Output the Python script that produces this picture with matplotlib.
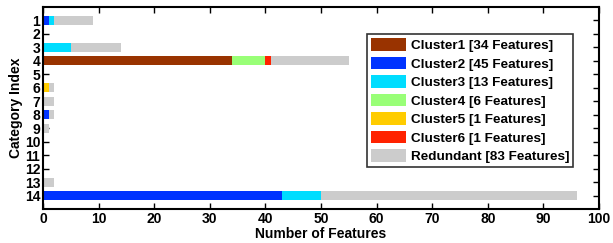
import matplotlib
matplotlib.use("Agg")
import matplotlib.pyplot as plt
from matplotlib.patches import Patch
import numpy as np

plt.rcParams['font.family'] = ['Liberation Sans', 'DejaVu Sans']
plt.rcParams['font.weight'] = 'bold'

categories = list(range(1, 15))
series_names = ["Cluster1 [34 Features]", "Cluster2 [45 Features]", "Cluster3 [13 Features]",
                "Cluster4 [6 Features]", "Cluster5 [1 Features]", "Cluster6 [1 Features]",
                "Redundant [83 Features]"]
colors = ["#993300", "#0033ff", "#00ddff", "#99ff77", "#ffcc00", "#ff2200", "#cccccc"]

cluster1  = [0, 0, 0, 34, 0, 0, 0, 0, 0, 0, 0, 0, 0, 0]
cluster2  = [1, 0, 0, 0, 0, 0, 0, 1, 0, 0, 0, 0, 0, 43]
cluster3  = [1, 0, 5, 0, 0, 0, 0, 0, 0, 0, 0, 0, 0, 7]
cluster4  = [0, 0, 0, 6, 0, 0, 0, 0, 0, 0, 0, 0, 0, 0]
cluster5  = [0, 0, 0, 0, 0, 1, 0, 0, 0, 0, 0, 0, 0, 0]
cluster6  = [0, 0, 0, 1, 0, 0, 0, 0, 0, 0, 0, 0, 0, 0]
redundant = [7, 0, 9, 14, 0, 1, 2, 1, 1, 0, 0, 0, 2, 46]
series = [cluster1, cluster2, cluster3, cluster4, cluster5, cluster6, redundant]
x_ticks = list(range(0, 101, 10))

fig = plt.figure(figsize=(6.13, 2.43), dpi=100)
ax = fig.add_axes([43/613, 1 - 209/243, (599-43)/613, (209-7)/243])
ax.set_axisbelow(True)

left = np.zeros(len(categories))
for vals, col in zip(series, colors):
    v = np.array(vals, dtype=float)
    ax.barh(categories, v, left=left, height=0.67, color=col, edgecolor='none', zorder=2)
    left += v

ax.set_xlim(0, 100)
ax.set_ylim(15, 0)
ax.set_xticks(x_ticks)
ax.set_yticks(categories)
ax.tick_params(direction='in', top=True, right=True, length=4, width=1, labelsize=10, pad=2)
for lab in ax.get_xticklabels() + ax.get_yticklabels():
    lab.set_fontweight('bold')
for s in ax.spines.values():
    s.set_linewidth(1.5)
    s.set_zorder(3)
ax.set_xlabel("Number of Features", fontsize=10, fontweight='bold', labelpad=1)
ax.set_ylabel("Category Index", fontsize=10, fontweight='bold', labelpad=1)

handles = [Patch(facecolor=c, edgecolor='none', label=n) for c, n in zip(colors, series_names)]
leg = ax.legend(handles=handles, loc='upper left', bbox_to_anchor=((367-43)/556, 1 - (34-7)/202),
                fontsize=9.7, frameon=True, fancybox=False, handlelength=2.6, handleheight=1.1,
                handletextpad=0.35, labelspacing=0.33, borderpad=0.3, borderaxespad=0)
leg.get_frame().set_edgecolor('black')
leg.get_frame().set_linewidth(1.2)
for t in leg.get_texts():
    t.set_fontweight('bold')

fig.savefig("out.png", dpi=100)
